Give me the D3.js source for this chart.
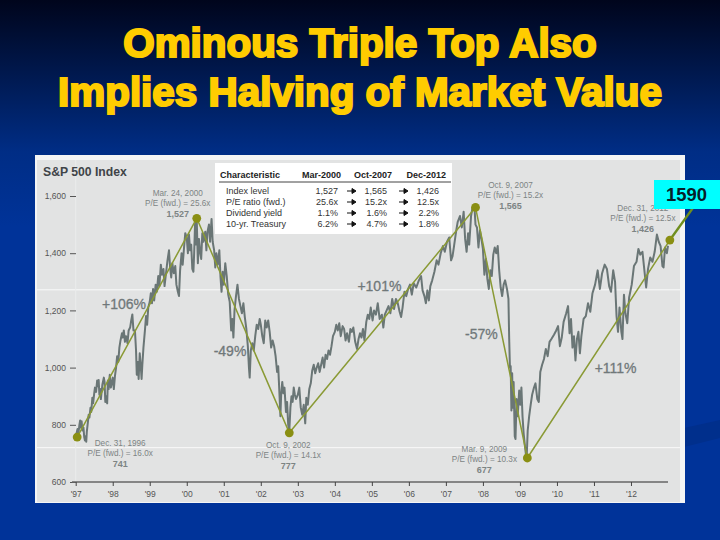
<!DOCTYPE html>
<html>
<head>
<meta charset="utf-8">
<script src="https://cdn.jsdelivr.net/npm/d3@7"></script>
<style>
html, body { margin: 0; padding: 0; background: #003399; }
svg { display: block; font-family: "Liberation Sans", Arial, sans-serif; }
</style>
</head>
<body>
<svg id="chart" width="720" height="540"></svg>
<script>
const titleLines = ["Ominous Triple Top Also", "Implies Halving of Market Value"];
const chartTitle = "S&P 500 Index";
const yTicks = [600, 800, 1000, 1200, 1400, 1600];
const xTicks = [1997, 1998, 1999, 2000, 2001, 2002, 2003, 2004, 2005, 2006, 2007, 2008, 2009, 2010, 2011, 2012];
const xTickLabels = ["'97", "'98", "'99", "'00", "'01", "'02", "'03", "'04", "'05", "'06", "'07", "'08", "'09", "'10", "'11", "'12"];
const whiteLines = [1272, 720];

// year (decimal), index level
const spx = [
  [1997.00,752],[1997.02,770],[1997.05,785],[1997.07,765],[1997.10,800],[1997.12,815],[1997.14,790],[1997.16,812],[1997.18,780],[1997.21,790],
  [1997.23,757],[1997.25,745],[1997.27,760],[1997.285,741],[1997.30,775],[1997.33,810],[1997.35,835],[1997.37,825],[1997.40,860],[1997.42,845],
  [1997.45,895],[1997.47,875],[1997.50,910],[1997.52,930],[1997.55,915],[1997.58,955],[1997.60,935],[1997.62,957],[1997.64,905],[1997.66,925],
  [1997.68,890],[1997.72,940],[1997.76,965],[1997.78,950],[1997.80,880],[1997.82,900],[1997.85,875],[1997.87,955],[1997.89,925],[1997.92,975],
  [1997.95,930],[1998.00,965],[1998.03,925],[1998.06,970],[1998.09,1000],[1998.12,1040],[1998.15,1020],[1998.18,1070],[1998.21,1095],[1998.25,1120],
  [1998.27,1105],[1998.30,1130],[1998.33,1090],[1998.36,1110],[1998.40,1085],[1998.43,1130],[1998.47,1140],[1998.50,1165],[1998.53,1186],[1998.56,1130],
  [1998.60,1130],[1998.63,1060],[1998.65,975],[1998.68,1020],[1998.70,960],[1998.73,1050],[1998.76,1000],[1998.78,960],[1998.80,1010],[1998.83,1070],
  [1998.87,1130],[1998.90,1180],[1998.93,1150],[1998.96,1210],[1999.00,1230],[1999.03,1260],[1999.06,1225],[1999.09,1275],[1999.12,1235],[1999.16,1290],
  [1999.19,1265],[1999.23,1320],[1999.26,1285],[1999.30,1360],[1999.33,1325],[1999.37,1345],[1999.40,1285],[1999.44,1330],[1999.48,1375],[1999.52,1410],
  [1999.55,1350],[1999.58,1315],[1999.61,1365],[1999.65,1330],[1999.69,1355],[1999.72,1290],[1999.76,1265],[1999.79,1250],[1999.82,1340],[1999.86,1400],
  [1999.89,1360],[1999.93,1425],[1999.96,1470],[2000.00,1455],[2000.03,1400],[2000.06,1465],[2000.09,1410],[2000.12,1430],[2000.15,1345],[2000.18,1335],
  [2000.20,1400],[2000.23,1527],[2000.25,1430],[2000.27,1515],[2000.30,1365],[2000.33,1450],[2000.36,1405],[2000.39,1380],[2000.42,1470],[2000.45,1440],
  [2000.50,1475],[2000.53,1410],[2000.56,1475],[2000.60,1500],[2000.63,1440],[2000.67,1520],[2000.70,1440],[2000.74,1410],[2000.77,1350],[2000.80,1400],
  [2000.84,1360],[2000.88,1410],[2000.91,1320],[2000.94,1265],[2000.97,1335],[2001.00,1290],[2001.04,1365],[2001.08,1320],[2001.12,1255],[2001.16,1230],
  [2001.20,1130],[2001.23,1170],[2001.26,1105],[2001.29,1200],[2001.33,1250],[2001.37,1290],[2001.41,1240],[2001.45,1215],[2001.49,1190],[2001.53,1225],
  [2001.57,1175],[2001.61,1135],[2001.65,1075],[2001.68,1000],[2001.70,965],[2001.73,1060],[2001.77,1085],[2001.81,1060],[2001.85,1110],[2001.89,1150],
  [2001.93,1135],[2001.97,1170],[2002.00,1150],[2002.04,1110],[2002.08,1085],[2002.12,1165],[2002.16,1140],[2002.20,1165],[2002.24,1125],[2002.28,1070],
  [2002.32,1095],[2002.36,1075],[2002.40,1040],[2002.44,985],[2002.47,1005],[2002.50,920],[2002.53,830],[2002.55,905],[2002.58,950],[2002.61,910],
  [2002.64,930],[2002.68,845],[2002.71,880],[2002.74,800],[2002.77,777],[2002.80,860],[2002.83,900],[2002.86,880],[2002.89,930],[2002.92,905],
  [2002.95,890],[2003.00,905],[2003.04,930],[2003.08,860],[2003.12,835],[2003.16,870],[2003.20,805],[2003.23,895],[2003.27,870],[2003.31,925],
  [2003.35,945],[2003.39,990],[2003.43,1010],[2003.47,980],[2003.51,1000],[2003.55,1015],[2003.59,985],[2003.63,1010],[2003.67,1035],[2003.71,1000],
  [2003.75,1045],[2003.79,1030],[2003.83,1060],[2003.87,1045],[2003.91,1075],[2003.95,1110],[2004.00,1125],[2004.04,1150],[2004.08,1130],[2004.12,1155],
  [2004.16,1110],[2004.21,1145],[2004.25,1135],[2004.29,1095],[2004.33,1120],[2004.38,1090],[2004.42,1135],[2004.46,1125],[2004.50,1140],[2004.55,1090],
  [2004.60,1065],[2004.64,1100],[2004.68,1120],[2004.72,1105],[2004.76,1135],[2004.80,1095],[2004.85,1160],[2004.89,1185],[2004.93,1170],[2004.97,1210],
  [2005.02,1165],[2005.06,1200],[2005.11,1185],[2005.16,1225],[2005.21,1170],[2005.27,1185],[2005.31,1140],[2005.35,1185],[2005.40,1200],[2005.45,1215],
  [2005.50,1190],[2005.55,1240],[2005.60,1205],[2005.65,1240],[2005.70,1225],[2005.75,1195],[2005.79,1177],[2005.83,1210],[2005.88,1265],[2005.93,1250],
  [2005.98,1275],[2006.03,1290],[2006.08,1255],[2006.13,1295],[2006.20,1280],[2006.27,1305],[2006.33,1320],[2006.37,1270],[2006.42,1250],[2006.46,1225],
  [2006.50,1270],[2006.54,1235],[2006.58,1285],[2006.63,1305],[2006.69,1335],[2006.75,1375],[2006.80,1360],[2006.86,1400],[2006.92,1425],[2006.97,1405],
  [2007.03,1440],[2007.09,1455],[2007.14,1375],[2007.18,1390],[2007.22,1425],[2007.28,1480],[2007.32,1510],[2007.38,1530],[2007.43,1490],[2007.48,1545],
  [2007.52,1450],[2007.56,1405],[2007.60,1470],[2007.63,1430],[2007.68,1530],[2007.72,1560],[2007.77,1565],[2007.80,1500],[2007.84,1490],[2007.88,1420],
  [2007.92,1480],[2007.96,1450],[2008.00,1415],[2008.04,1325],[2008.08,1380],[2008.12,1310],[2008.16,1275],[2008.20,1340],[2008.24,1320],[2008.28,1395],
  [2008.32,1420],[2008.36,1400],[2008.40,1425],[2008.44,1340],[2008.48,1280],[2008.52,1250],[2008.56,1290],[2008.60,1305],[2008.65,1275],[2008.69,1240],
  [2008.71,1100],[2008.73,1000],[2008.75,1005],[2008.77,850],[2008.79,980],[2008.81,860],[2008.83,950],[2008.86,760],[2008.88,750],[2008.91,890],
  [2008.94,830],[2008.98,920],[2009.01,870],[2009.04,930],[2009.07,830],[2009.10,770],[2009.14,720],[2009.18,677],[2009.21,780],[2009.25,830],
  [2009.29,870],[2009.33,905],[2009.38,930],[2009.42,945],[2009.47,890],[2009.51,880],[2009.55,985],[2009.60,1010],[2009.65,1030],[2009.70,1065],
  [2009.75,1040],[2009.80,1090],[2009.85,1100],[2009.92,1115],[2009.98,1130],[2010.03,1145],[2010.08,1075],[2010.13,1105],[2010.18,1160],[2010.25,1190],
  [2010.30,1215],[2010.34,1120],[2010.38,1170],[2010.42,1070],[2010.46,1110],[2010.50,1025],[2010.54,1100],[2010.58,1125],[2010.62,1050],[2010.66,1110],
  [2010.72,1170],[2010.78,1180],[2010.84,1225],[2010.90,1195],[2010.96,1260],[2011.03,1290],[2011.10,1340],[2011.16,1275],[2011.22,1330],[2011.29,1360],
  [2011.35,1345],[2011.41,1285],[2011.46,1265],[2011.52,1340],[2011.57,1300],[2011.61,1180],[2011.65,1125],[2011.69,1210],[2011.74,1125],[2011.77,1100],
  [2011.81,1255],[2011.85,1190],[2011.90,1155],[2011.95,1245],[2012.02,1290],[2012.08,1355],[2012.15,1370],[2012.20,1415],[2012.25,1395],[2012.31,1405],
  [2012.37,1330],[2012.41,1280],[2012.46,1345],[2012.52,1385],[2012.58,1370],[2012.64,1405],[2012.70,1465],[2012.75,1440],[2012.80,1425],[2012.85,1355],
  [2012.88,1350],[2012.92,1420],[2012.97,1400],[2013.00,1426]
];

// turning points: date, level, fwd P/E
const pivotDates = ["Dec. 31, 1996", "Mar. 24, 2000", "Oct. 9, 2002", "Oct. 9, 2007", "Mar. 9, 2009", "Dec. 31, 2012"];
const pivotYears = [1997.04, 2000.27, 2002.77, 2007.8, 2009.2, 2013.05];
const pivotLevels = [757, 1522, 772, 1560, 684, 1446];
const pivotLabels = ["741", "1,527", "777", "1,565", "677", "1,426"];
const pivotPE = ["16.0x", "25.6x", "14.1x", "15.2x", "10.3x", "12.5x"];
const moveLabels = ["+106%", "-49%", "+101%", "-57%", "+111%"];

const projectionYear = 2013.85;
const projectionLevel = 1590;
const projectionLabel = "1590";

const tableHead = ["Characteristic", "Mar-2000", "Oct-2007", "Dec-2012"];
const tableRows = ["Index level", "P/E ratio (fwd.)", "Dividend yield", "10-yr. Treasury"];
const tableMar2000 = ["1,527", "25.6x", "1.1%", "6.2%"];
const tableOct2007 = ["1,565", "15.2x", "1.6%", "4.7%"];
const tableDec2012 = ["1,426", "12.5x", "2.2%", "1.8%"];

const svg = d3.select("#chart");

// slide background
const defs = svg.append("defs");
const grad = defs.append("linearGradient").attr("id", "bg").attr("x1", 0).attr("y1", 0).attr("x2", 0).attr("y2", 1);
grad.append("stop").attr("offset", "0%").attr("stop-color", "#00051c");
grad.append("stop").attr("offset", "12%").attr("stop-color", "#001648");
grad.append("stop").attr("offset", "28%").attr("stop-color", "#002d85");
grad.append("stop").attr("offset", "42%").attr("stop-color", "#003399");
grad.append("stop").attr("offset", "100%").attr("stop-color", "#003399");
svg.append("rect").attr("width", 720).attr("height", 540).attr("fill", "url(#bg)");
svg.append("path").attr("d", "M684 428 L720 420 L720 438 L684 447 Z").attr("fill", "#002f8c");

svg.append("g").selectAll("text").data(titleLines).join("text")
  .attr("x", 360).attr("y", (d, i) => 57 + i * 48.5)
  .attr("text-anchor", "middle")
  .attr("font-size", 40.4).attr("font-weight", "bold")
  .attr("fill", "#ffcc00").attr("stroke", "#ffcc00").attr("stroke-width", 2.2)
  .text(d => d);

// panel
svg.append("rect").attr("x", 35).attr("y", 155).attr("width", 650).attr("height", 348).attr("fill", "#f4f5f5");
svg.append("rect").attr("x", 37).attr("y", 160).attr("width", 643).attr("height", 342).attr("fill", "#e2e3e3");

const x = d3.scaleLinear().domain([1997, 2013]).range([75.7, 668]);
const y = d3.scaleLinear().domain([600, 1600]).range([482, 196]);

svg.append("g").selectAll("line").data(whiteLines).join("line")
  .attr("x1", 37).attr("x2", 680).attr("y1", d => y(d)).attr("y2", d => y(d))
  .attr("stroke", "#fafafa").attr("stroke-width", 1);
svg.append("line").attr("x1", x(1997)).attr("x2", x(1997)).attr("y1", 160).attr("y2", y(600))
  .attr("stroke", "#ebecec").attr("stroke-width", 1);

svg.append("text").attr("x", 43).attr("y", 176)
  .attr("font-size", 12.2).attr("font-weight", "bold").attr("fill", "#404448").text(chartTitle);

// axes
const yAxis = svg.append("g").attr("transform", "translate(76,0)")
  .call(d3.axisLeft(y).tickValues(yTicks).tickSize(6).tickPadding(4).tickFormat(d3.format(",")));
yAxis.select(".domain").remove();
yAxis.selectAll("line").attr("stroke", "#555");
yAxis.selectAll("text").attr("font-size", 8.5).attr("fill", "#555");

const xAxis = svg.append("g").attr("transform", `translate(0,${y(600)})`)
  .call(d3.axisBottom(x).tickValues(xTicks).tickSize(4).tickSizeOuter(0).tickPadding(5).tickFormat((d, i) => xTickLabels[i]));
xAxis.select(".domain").attr("stroke", "#666").attr("stroke-width", 1.6).attr("d", `M72,0H${x(2013)}`);
xAxis.selectAll("line").attr("stroke", "#444");
xAxis.selectAll("text").attr("font-size", 8.5).attr("fill", "#555");

// index line
const line = d3.line().x(d => x(d[0])).y(d => y(d[1]));
svg.append("path").datum(spx).attr("d", line)
  .attr("fill", "none").attr("stroke", "#6a7676").attr("stroke-width", 2).attr("stroke-linejoin", "round");

// trend legs and the projection beyond the last pivot
const pivots = pivotYears.map((yr, i) => [yr, pivotLevels[i]]);
svg.append("path").datum(pivots).attr("d", line)
  .attr("fill", "none").attr("stroke", "#8a9a35").attr("stroke-width", 1.5);
svg.append("path").datum([pivots[5], [projectionYear, projectionLevel]]).attr("d", line)
  .attr("fill", "none").attr("stroke", "#6f8e1e").attr("stroke-width", 2.4);
svg.append("g").selectAll("circle").data(pivots).join("circle")
  .attr("cx", d => x(d[0])).attr("cy", d => y(d[1])).attr("r", 4.4).attr("fill", "#8a8f13");

// percent move labels, nudged off the middle of each leg
const moveOffsets = [[-13, -19], [-13, 30], [-3, -29], [-20, 6], [17, 24]];
const moveAnchors = [[0, 1], [1, 2], [2, 3], [3, 4], [4, 5]];
svg.append("g").selectAll("text").data(moveLabels).join("text")
  .attr("x", (d, i) => (x(pivots[moveAnchors[i][0]][0]) + x(pivots[moveAnchors[i][1]][0])) / 2 + moveOffsets[i][0])
  .attr("y", (d, i) => (y(pivots[moveAnchors[i][0]][1]) + y(pivots[moveAnchors[i][1]][1])) / 2 + moveOffsets[i][1])
  .attr("text-anchor", "middle").attr("font-size", 14).attr("fill", "#70787a")
  .attr("stroke", "#70787a").attr("stroke-width", 0.3)
  .text(d => d);

// pivot annotations, offset from each dot
const noteOffsets = [[43, 9], [-19, -22], [-1, 15], [35, -19], [-43, -6], [-27, -29]];
const notes = svg.append("g").selectAll("g").data(pivots).join("g")
  .attr("transform", (d, i) => `translate(${x(d[0]) + noteOffsets[i][0]},${y(d[1]) + noteOffsets[i][1]})`)
  .attr("text-anchor", "middle").attr("font-size", 8.2).attr("fill", "#7d8484");
notes.append("text").attr("y", 0).text((d, i) => pivotDates[i]);
notes.append("text").attr("y", 10).text((d, i) => `P/E (fwd.) = ${pivotPE[i]}`);
notes.append("text").attr("y", 21).attr("font-size", 9).attr("font-weight", "bold").text((d, i) => pivotLabels[i]);

// table
const table = svg.append("g");
table.append("rect").attr("x", 215).attr("y", 163).attr("width", 237).attr("height", 71).attr("fill", "#fff");
table.append("line").attr("x1", 219).attr("x2", 451).attr("y1", 182).attr("y2", 182).attr("stroke", "#444").attr("stroke-width", 1);
const headX = [220, 341, 392, 446];
table.selectAll(".head").data(tableHead).join("text").attr("class", "head")
  .attr("x", (d, i) => headX[i]).attr("y", 178)
  .attr("text-anchor", (d, i) => i ? "end" : "start")
  .attr("font-size", 9).attr("font-weight", "bold").attr("fill", "#222").text(d => d);
const rowY = i => 194 + i * 11;
table.selectAll(".row").data(tableRows).join("text").attr("class", "row")
  .attr("x", 226).attr("y", (d, i) => rowY(i)).attr("font-size", 9).attr("fill", "#333").text(d => d);
[[tableMar2000, 338], [tableOct2007, 387], [tableDec2012, 439]].forEach(([col, cx]) => {
  table.append("g").selectAll("text").data(col).join("text")
    .attr("x", cx).attr("y", (d, i) => rowY(i)).attr("text-anchor", "end")
    .attr("font-size", 9).attr("fill", "#333").text(d => d);
});
[352, 404].forEach(ax => {
  tableRows.forEach((r, i) => {
    const ay = rowY(i) - 3;
    table.append("path").attr("d", `M${ax - 5} ${ay}H${ax}M${ax} ${ay - 2.5}L${ax + 4} ${ay}L${ax} ${ay + 2.5}Z`)
      .attr("stroke", "#111").attr("stroke-width", 1).attr("fill", "#111");
  });
});

// callout
svg.append("rect").attr("x", 654).attr("y", 180).attr("width", 66).attr("height", 29).attr("fill", "#00ffff");
svg.append("text").attr("x", 686.5).attr("y", 201).attr("text-anchor", "middle")
  .attr("font-size", 18.4).attr("font-weight", "bold").attr("fill", "#06202a").text(projectionLabel);
</script>
</body>
</html>
